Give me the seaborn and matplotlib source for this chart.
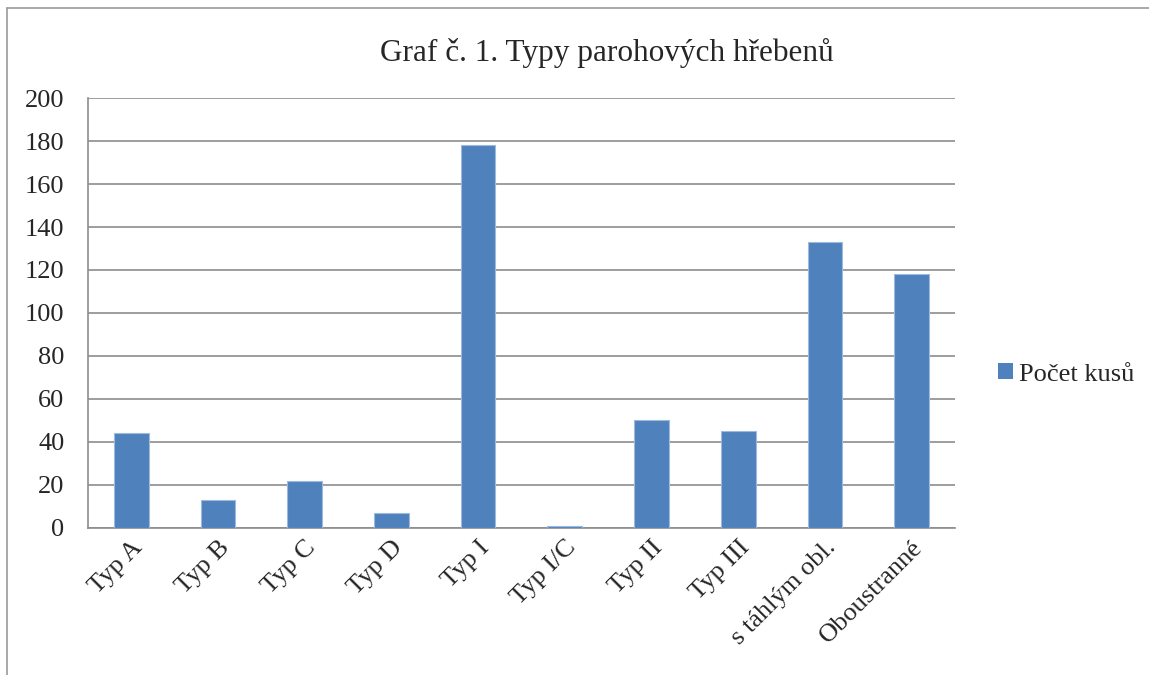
import matplotlib
matplotlib.use("Agg")
import matplotlib.pyplot as plt
import seaborn as sns
import pandas as pd
from matplotlib.patches import Patch

categories = ["Typ A", "Typ B", "Typ C", "Typ D", "Typ I", "Typ I/C",
              "Typ II", "Typ III", "s táhlým obl.", "Oboustranné"]
counts = [44, 13, 22, 7, 178, 1, 50, 45, 133, 118]
series_name = "Počet kusů"
title = "Graf č. 1. Typy parohových hřebenů"

df = pd.DataFrame({"typ": categories, "pocet": counts})

sns.set_style("white")
plt.rcParams["font.family"] = ["Liberation Serif", "DejaVu Serif"]

fig = plt.figure(figsize=(11.49, 6.75), dpi=100)
ax = fig.add_axes([0.0766, 0.2178, 0.7545, 0.637])

sns.barplot(data=df, x="typ", y="pocet", color="#4F81BD", width=0.4,
            saturation=1, ax=ax)
for p in ax.patches:
    p.set_zorder(3)
    p.set_edgecolor("#9db9dc")
    p.set_linewidth(0.8)

ax.set_ylim(0, 200)
ax.set_yticks(range(0, 201, 20))
ax.yaxis.grid(True, color="#8c8c8c", linewidth=1.2)
ax.set_axisbelow(True)
ax.set_xlabel("")
ax.set_ylabel("")
for s in ["top", "right"]:
    ax.spines[s].set_visible(False)
for s in ["left", "bottom"]:
    ax.spines[s].set_color("#8c8c8c")
    ax.spines[s].set_linewidth(1.2)

ax.tick_params(axis="y", labelsize=19, length=0, pad=17)
ax.tick_params(axis="x", labelsize=19, length=0, pad=6)
plt.setp(ax.get_xticklabels(), rotation=45, ha="right", rotation_mode="anchor")
ax.set_xlim(-0.5, len(categories) - 0.5)

fig.text(0.528, 0.922, title, ha="center", va="center", fontsize=22.5)

handle = Patch(facecolor="#4F81BD", edgecolor="none")
fig.legend([handle], [series_name], loc="center left",
           bbox_to_anchor=(0.848, 0.445), frameon=False, fontsize=19,
           handlelength=0.55, handleheight=0.55, handletextpad=0.25)

# outer chart frame (left and top edges visible)
fig.add_artist(plt.Line2D([0.0061, 0.0061], [0.0, 0.988], color="#9a9a9a",
                          linewidth=1.2, transform=fig.transFigure))
fig.add_artist(plt.Line2D([0.0061, 1.0], [0.988, 0.988], color="#9a9a9a",
                          linewidth=1.2, transform=fig.transFigure))

fig.savefig("out.png", dpi=100)
